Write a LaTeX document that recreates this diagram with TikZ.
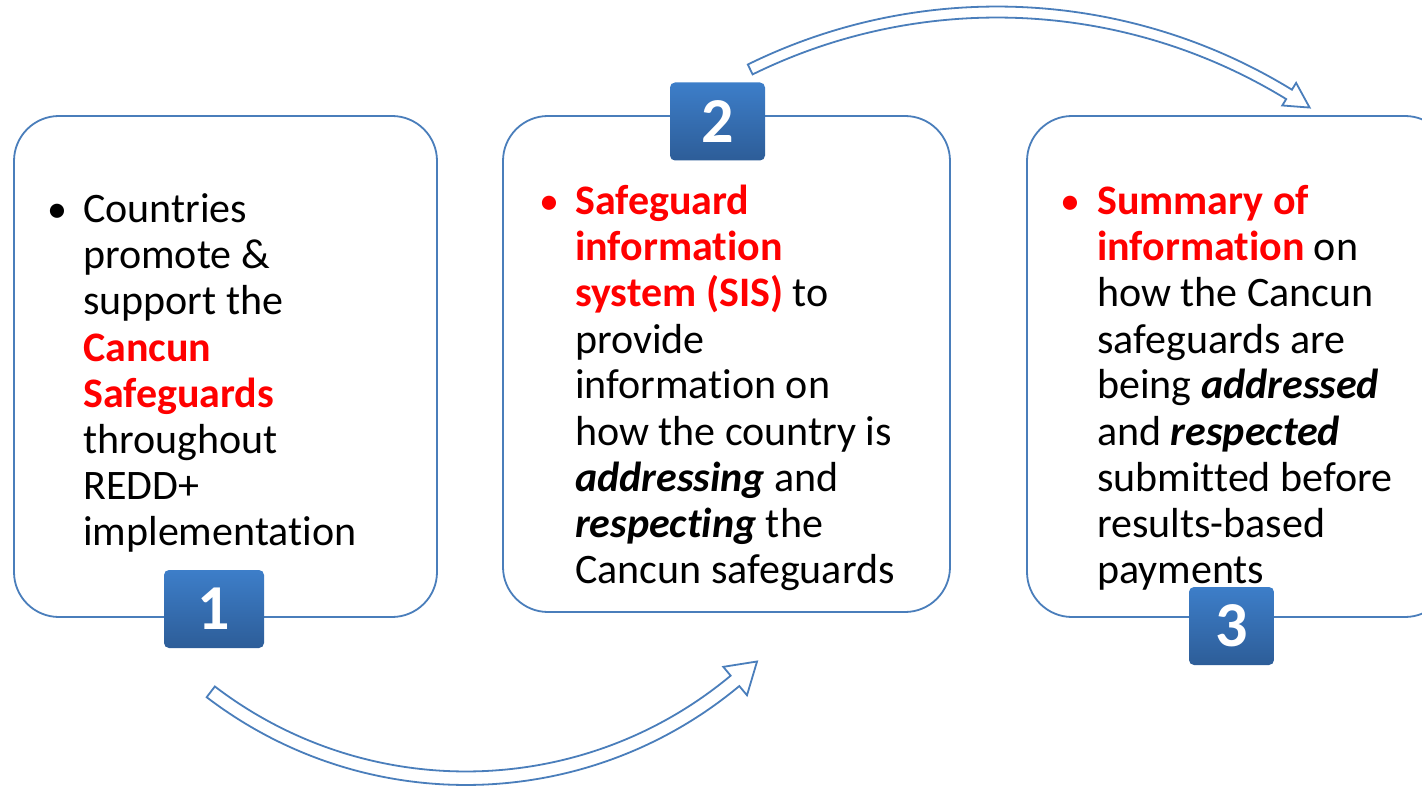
\documentclass[tikz,border=0pt]{standalone}
\usepackage{fontspec}
\setmainfont{Carlito}[Ligatures={NoCommon}]
\definecolor{bord}{HTML}{4A7EBB}
\definecolor{numtop}{HTML}{3D7EC9}
\definecolor{numbot}{HTML}{2D5D98}
\definecolor{redtxt}{HTML}{FF0000}
\newcommand{\rb}[1]{\textcolor{redtxt}{\bfseries #1}}
\newcommand{\bi}[1]{\textbf{\textit{#1}}}
\begin{document}
\begin{tikzpicture}[x=1pt,y=-1pt,
  panel/.style={draw=bord, line width=1.8pt, rounded corners=45pt, fill=white, inner sep=0},
  numbox/.style={rounded corners=5pt, top color=numtop, bottom color=numbot, draw=none,
    text=white, font=\fontsize{64}{64}\selectfont\bfseries, inner sep=0, minimum height=78pt},
  ln/.style={anchor=base west, inner sep=0, font=\fontsize{42}{46}\selectfont},
  bul/.style={anchor=base, inner sep=0, font=\fontsize{40}{46}\selectfont},
  blockarrow/.style={draw=bord, line width=1.8pt, fill=white, line join=miter}
]
\useasboundingbox[fill=white] (0,0) rectangle (1422,786);

% panels
\node[panel, minimum width=423pt, minimum height=501pt] (p1) at (225.5,366.5) {};
\node[panel, minimum width=447pt, minimum height=496pt] (p2) at (726.5,364) {};
\node[panel, minimum width=423pt, minimum height=501pt] (p3) at (1238.5,366.5) {};

% curved block arrows
\begin{scope}[shift={(997,571)}]
\draw[blockarrow] (-116.2:553.5) -- (-116.2:564.5)
  arc[start angle=-116.2, end angle=-58.5, radius=564.5]
  -- (-58.5:572.5) -- (-56:559) -- (-58.5:546) -- (-58.5:553.5)
  arc[start angle=-58.5, end angle=-116.2, radius=553.5] -- cycle;
\end{scope}
\begin{scope}[shift={(466,358)}]
\draw[blockarrow] (127.4:427) -- (127.4:413.5)
  arc[start angle=127.4, end angle=50.2, radius=413.5]
  -- (50.2:402) -- (46.2:420.5) -- (50.2:439) -- (50.2:427)
  arc[start angle=50.2, end angle=127.4, radius=427] -- cycle;
\end{scope}

% number boxes
\node[numbox, minimum width=100pt] (n1) at (214,609) {1};
\node[numbox, minimum width=95pt] (n2) at (717.5,121.5) {2};
\node[numbox, minimum width=85pt] (n3) at (1231.5,626) {3};

% box 1 text
\node[bul] (u1) at (57,223) {•};
\node[ln] (a1) at (83,223) {Countries};
\node[ln] (a2) at (83,269) {promote \&};
\node[ln] (a3) at (83,315) {support the};
\node[ln] (a4) at (83,361) {\rb{Cancun}};
\node[ln] (a5) at (83,407) {\rb{Safeguards}};
\node[ln] (a6) at (83,453) {throughout};
\node[ln] (a7) at (83,499) {REDD+};
\node[ln] (a8) at (83,545) {implementation};

% box 2 text
\node[bul, text=redtxt] (u2) at (549,215) {•};
\node[ln] (b1) at (575,215) {\rb{Safeguard}};
\node[ln] (b2) at (575,261) {\rb{information}};
\node[ln] (b3) at (575,307) {\rb{system (SIS)} to};
\node[ln] (b4) at (575,353) {provide};
\node[ln] (b5) at (575,399) {information on};
\node[ln] (b6) at (575,445) {how the country is};
\node[ln] (b7) at (575,491) {\bi{addressing} and};
\node[ln] (b8) at (575,537) {\bi{respecting} the};
\node[ln] (b9) at (575,583) {Cancun safeguards};

% box 3 text
\node[bul, text=redtxt] (u3) at (1070,215) {•};
\node[ln] (c1) at (1097,215) {\rb{Summary of}};
\node[ln] (c2) at (1097,261) {\rb{information} on};
\node[ln] (c3) at (1097,307) {how the Cancun};
\node[ln] (c4) at (1097,353) {safeguards are};
\node[ln] (c5) at (1097,399) {being \bi{addressed}};
\node[ln] (c6) at (1097,445) {and \bi{respected}};
\node[ln] (c7) at (1097,491) {submitted before};
\node[ln] (c8) at (1097,537) {results-based};
\node[ln] (c9) at (1097,583) {payments};
\end{tikzpicture}
\end{document}
